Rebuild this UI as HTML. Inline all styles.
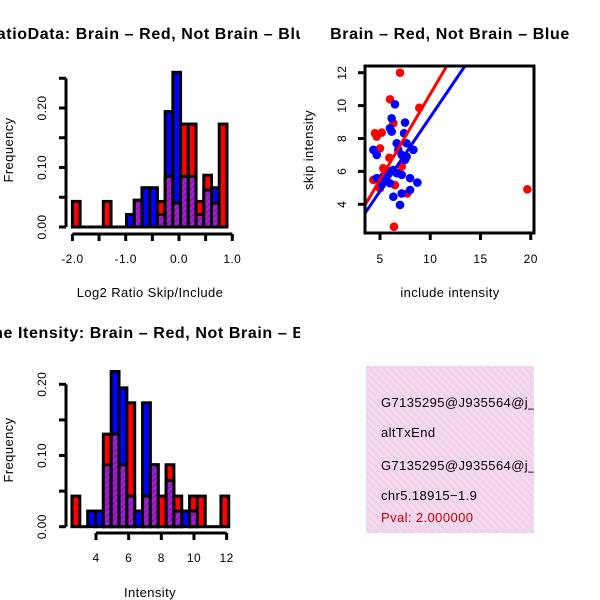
<!DOCTYPE html>
<html><head><meta charset="utf-8"><style>
body{margin:0;background:#fff}
svg{display:block;font-family:"Liberation Sans",sans-serif}
text{letter-spacing:0.4px}
.ttl{letter-spacing:0.6px}
</style></head><body>
<svg id="chart" width="600" height="600" viewBox="0 0 600 600">
<defs>
<pattern id="hatch" width="4" height="4" patternUnits="userSpaceOnUse" patternTransform="rotate(45)">
<rect width="4" height="4" fill="#a020d0"/><line x1="0" y1="0" x2="0" y2="4" stroke="#6a1090" stroke-width="1.5"/></pattern>
<pattern id="pinkhatch" width="5" height="5" patternUnits="userSpaceOnUse" patternTransform="rotate(-45)">
<rect width="5" height="5" fill="#f6d6f2"/><line x1="0" y1="0" x2="0" y2="5" stroke="#d9d6c6" stroke-width="1.6"/></pattern>
<clipPath id="c1"><rect x="0" y="0" width="300" height="300"/></clipPath>
<clipPath id="c3"><rect x="0" y="300" width="300" height="300"/></clipPath>
<clipPath id="cs"><rect x="365" y="66" width="169" height="167"/></clipPath>
<clipPath id="cb"><rect x="366" y="366" width="168" height="167"/></clipPath>
</defs>
<g id="p1" clip-path="url(#c1)"></g>
<g id="p2"></g>
<g id="p3" clip-path="url(#c3)"></g>
<g clip-path="url(#cb)">
<rect x="366" y="366" width="168" height="167" fill="url(#pinkhatch)"/>
<g font-size="13" fill="#000">
<text x="381" y="407">G7135295@J935564@j_</text>
<text x="381" y="437">altTxEnd</text>
<text x="381" y="470">G7135295@J935564@j_</text>
<text x="381" y="500">chr5.18915−1.9</text>
<text x="381" y="522" fill="#c00000">Pval: 2.000000</text>
</g></g>
</svg>
<script>
// Ratio histogram data (bins of width 0.145 starting -2.0)
const ratioStart = -2.0, ratioWidth = 0.145;
const ratioRed  = [0.043,0,0,0,0.043,0,0,0,0.045,0,0,0.043,0.085,0.04,0.173,0.173,0.043,0.087,0.04,0.173];
const ratioBlue = [0,0,0,0,0,0,0,0.021,0.045,0.066,0.066,0.021,0.194,0.26,0.085,0.085,0.021,0.062,0.066,0];
const ratioXTicks = [-2.0,-1.5,-1.0,-0.5,0.0,0.5,1.0];
const ratioXLabels = ["-2.0","","-1.0","","0.0","","1.0"];
const ratioYTicks = [0,0.05,0.10,0.15,0.20,0.25];
const ratioYLabels = ["0.00","","0.10","","0.20",""];
// Intensity histogram data (bins of width 0.48 starting 2.53)
const intStart = 2.53, intWidth = 0.48;
const intRed  = [0.043,0,0,0,0.13,0.13,0.087,0.174,0,0.043,0.087,0.043,0.087,0.043,0,0.043,0.043,0,0,0.043];
const intBlue = [0,0,0.022,0.022,0.087,0.218,0.195,0.043,0.022,0.174,0.087,0,0.065,0.022,0.022,0.022,0,0,0,0];
const intXTicks = [4,6,8,10,12];
const intYTicks = [0,0.05,0.10,0.15,0.20];
const intYLabels = ["0.00","","0.10","","0.20"];
// Scatter data
const redX = [6.99,6.0,8.91,4.5,5.17,4.67,5.0,5.93,5.33,4.34,5.0,6.49,7.72,6.39,19.66,6.33,7.16,5.66];
const redY = [12.0,10.38,9.87,8.32,8.36,8.12,7.4,6.83,6.19,5.48,4.97,5.17,4.66,2.64,4.91,8.93,6.3,6.1];
const blueX = [6.49,6.16,7.49,5.99,6.16,7.39,6.66,4.34,4.67,7.65,8.32,7.16,7.49,6.33,5.83,4.67,5.5,5.99,5.17,6.66,7.16,7.99,8.72,7.99,7.16,6.33,6.99,6.82,7.65,5.33];
const blueY = [10.08,9.23,8.97,8.62,8.42,8.32,7.71,7.31,7.0,7.71,7.31,7.0,6.7,6.09,5.89,5.59,5.48,5.28,5.18,5.89,5.79,5.59,5.32,4.87,4.66,4.46,3.96,7.31,6.9,5.69];
const redFit = [0.3,1.04], blueFit = [0.3,0.9];
const scXTicks = [5,10,15,20], scYTicks = [4,6,8,10,12];

const NS="http://www.w3.org/2000/svg";
function mk(parent,tag,attrs,text){const e=document.createElementNS(NS,tag);for(const k in attrs)e.setAttribute(k,attrs[k]);if(text!==undefined)e.textContent=text;parent.appendChild(e);return e;}

function hist(g,start,w,red,blue,xs,ys,xTicks,xLabels,yTicks,yLabels,axisY,yAxisX,title,xlab,titleY,xlabY,labelY,name){
  for(let i=0;i<red.length;i++){
    const x0=xs(start+i*w), x1=xs(start+(i+1)*w);
    const r=red[i], b=blue[i], hi=Math.max(r,b), lo=Math.min(r,b);
    if(hi>0){
      const bar=mk(g,'rect',{x:x0,y:ys(hi),width:x1-x0,height:ys(0)-ys(hi),fill:r>=b?'#ff0000':'#0000ff',stroke:'#000','stroke-width':3});
      
      
    }
    if(lo>0){
      const ov=mk(g,'rect',{x:x0,y:ys(lo),width:x1-x0,height:ys(0)-ys(lo),fill:'url(#hatch)',stroke:'#000','stroke-width':3});
      
      
    }
    if(hi===0){
      mk(g,'line',{x1:x0,x2:x1,y1:ys(0),y2:ys(0),stroke:'#000','stroke-width':3});
    }
  }
  const xa=mk(g,'g',{});
  
  
  mk(xa,'line',{x1:xs(xTicks[0]),x2:xs(xTicks[xTicks.length-1]),y1:axisY,y2:axisY,stroke:'#000','stroke-width':3});
  xTicks.forEach((t,i)=>{mk(xa,'line',{x1:xs(t),x2:xs(t),y1:axisY,y2:axisY+7,stroke:'#000','stroke-width':3});
    if(xLabels[i]){const tl=mk(xa,'text',{x:xs(t),y:axisY+29,'text-anchor':'middle','font-size':12},xLabels[i]);
      
      }});
  const ya=mk(g,'g',{});
  
  
  mk(ya,'line',{x1:yAxisX,x2:yAxisX,y1:ys(yTicks[0]),y2:ys(yTicks[yTicks.length-1]),stroke:'#000','stroke-width':3});
  yTicks.forEach((t,i)=>{mk(ya,'line',{x1:yAxisX-7,x2:yAxisX,y1:ys(t),y2:ys(t),stroke:'#000','stroke-width':3});
    if(yLabels[i]){const tl=mk(ya,'text',{x:0,y:0,'text-anchor':'middle','font-size':12,transform:`translate(${yAxisX-20},${ys(t)}) rotate(-90)`},yLabels[i]);
      
      }});
  const tt=mk(g,'text',{x:150,y:titleY,'text-anchor':'middle','font-size':16,'font-weight':'bold','class':'ttl'},title);
  
  
  const xl=mk(g,'text',{x:150,y:xlabY,'text-anchor':'middle','font-size':13},xlab);
  
  
  const yl=mk(g,'text',{x:0,y:0,'text-anchor':'middle','font-size':13,transform:`translate(13,${labelY}) rotate(-90)`},'Frequency');
  
  
}
const p1=document.getElementById('p1');
hist(p1,ratioStart,ratioWidth,ratioRed,ratioBlue,v=>179+v*53.3,v=>227-v*595,ratioXTicks,ratioXLabels,ratioYTicks,ratioYLabels,234,66,
 'RatioData: Brain – Red, Not Brain – Blue','Log2 Ratio Skip/Include',39,297,150,'ratio-hist');
const p3=document.getElementById('p3');
hist(p3,intStart,intWidth,intRed,intBlue,v=>96+(v-4)*16.33,v=>526.7-v*712,intXTicks,intXTicks.map(String),intYTicks,intYLabels,533,66,
 'Gene Itensity: Brain – Red, Not Brain – Blue','Intensity',338,597,450,'intensity-hist');

// scatter
const p2=document.getElementById('p2');
const sx=v=>380+(v-5)*10.05, sy=v=>204.3-(v-4)*16.45;
const pts=mk(p2,'g',{'clip-path':'url(#cs)'});
redX.forEach((x,i)=>{const c=mk(pts,'circle',{cx:sx(x),cy:sy(redY[i]),r:4.3,fill:'#ff0000'});
  
  });
blueX.forEach((x,i)=>{const c=mk(pts,'circle',{cx:sx(x),cy:sy(blueY[i]),r:4.3,fill:'#0000ff'});
  
  });
[[redFit,'#ff0000','brain-fit-line'],[blueFit,'#0000ff','not-brain-fit-line']].forEach(([f,col,nm])=>{
  const l=mk(pts,'line',{x1:sx(2),y1:sy(f[0]+f[1]*2),x2:sx(22),y2:sy(f[0]+f[1]*22),stroke:col,'stroke-width':3});
  
  });
const box=mk(p2,'rect',{x:365,y:66,width:169,height:167,fill:'none',stroke:'#000','stroke-width':3});


scXTicks.forEach(t=>{mk(p2,'line',{x1:sx(t),x2:sx(t),y1:233,y2:240,stroke:'#000','stroke-width':3});
  const tl=mk(p2,'text',{x:sx(t),y:263,'text-anchor':'middle','font-size':12},String(t));
  
  });
scYTicks.forEach(t=>{mk(p2,'line',{x1:358,x2:365,y1:sy(t),y2:sy(t),stroke:'#000','stroke-width':3});
  const tl=mk(p2,'text',{x:0,y:0,'text-anchor':'middle','font-size':12,transform:`translate(346,${sy(t)}) rotate(-90)`},String(t));
  
  });
const st=mk(p2,'text',{x:450,y:39,'text-anchor':'middle','font-size':16,'font-weight':'bold','class':'ttl'},'Brain – Red, Not Brain – Blue');


const sxl=mk(p2,'text',{x:450,y:297,'text-anchor':'middle','font-size':13},'include intensity');


const syl=mk(p2,'text',{x:0,y:0,'text-anchor':'middle','font-size':13,transform:'translate(313,150) rotate(-90)'},'skip intensity');


</script>
</body></html>
